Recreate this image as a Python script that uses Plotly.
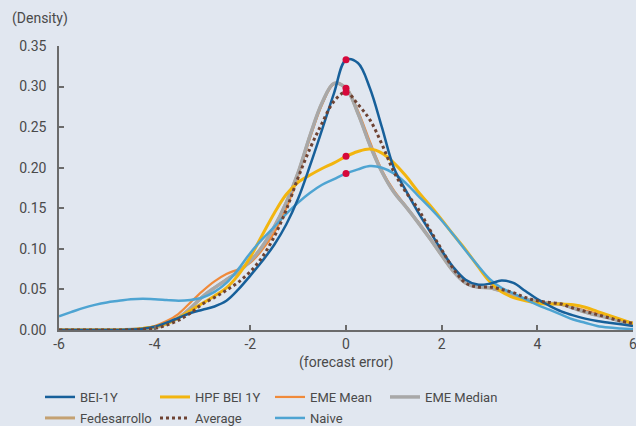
import plotly.graph_objects as go

x_vals = [-6, -5.75, -5.5, -5.25, -5, -4.75, -4.5, -4.25, -4, -3.75, -3.5, -3.25,
          -3, -2.75, -2.5, -2.25, -2, -1.75, -1.5, -1.25, -1, -0.75, -0.5, -0.25,
          0, 0.25, 0.5, 0.75, 1, 1.25, 1.5, 1.75, 2, 2.25, 2.5, 2.75,
          3, 3.25, 3.5, 3.75, 4, 4.25, 4.5, 4.75, 5, 5.25, 5.5, 5.75, 6]

bei_1y = [0, 0, 0, 0, 0, 0, 0.0005, 0.0015, 0.004, 0.009, 0.015, 0.021,
          0.025, 0.029, 0.036, 0.05, 0.067, 0.085, 0.105, 0.13, 0.162, 0.203, 0.247, 0.292,
          0.333, 0.329, 0.298, 0.25, 0.2, 0.172, 0.146, 0.122, 0.098, 0.077, 0.062, 0.056,
          0.057, 0.061, 0.058, 0.048, 0.038, 0.03, 0.023, 0.018, 0.014, 0.011, 0.009, 0.007, 0.005]
hpf_bei_1y = [0, 0, 0, 0, 0, 0, 0.0005, 0.002, 0.004, 0.008, 0.015, 0.024,
              0.033, 0.042, 0.052, 0.068, 0.09, 0.117, 0.144, 0.167, 0.182, 0.191, 0.199, 0.206,
              0.214, 0.22, 0.223, 0.218, 0.206, 0.19, 0.171, 0.154, 0.136, 0.117, 0.099, 0.079,
              0.06, 0.047, 0.04, 0.036, 0.033, 0.032, 0.032, 0.031, 0.028, 0.023, 0.018, 0.013, 0.008]
eme_mean = [0, 0, 0, 0, 0, 0, 0.0005, 0.002, 0.005, 0.011, 0.02, 0.034,
            0.048, 0.06, 0.069, 0.075, 0.083, 0.099, 0.12, 0.15, 0.19, 0.237, 0.278, 0.303,
            0.298, 0.27, 0.232, 0.197, 0.172, 0.153, 0.134, 0.114, 0.093, 0.073, 0.058, 0.053,
            0.052, 0.048, 0.043, 0.038, 0.035, 0.033, 0.031, 0.028, 0.024, 0.02, 0.016, 0.012, 0.009]
eme_median = [0, 0, 0, 0, 0, 0, 0.0005, 0.0015, 0.003, 0.008, 0.015, 0.027,
              0.041, 0.052, 0.062, 0.072, 0.085, 0.103, 0.127, 0.157, 0.194, 0.24, 0.28, 0.304,
              0.298, 0.267, 0.228, 0.195, 0.17, 0.152, 0.133, 0.113, 0.092, 0.072, 0.058, 0.053,
              0.052, 0.048, 0.043, 0.038, 0.035, 0.033, 0.032, 0.027, 0.022, 0.018, 0.015, 0.011, 0.008]
fedesarrollo = [0, 0, 0, 0, 0, 0, 0.0005, 0.0015, 0.003, 0.008, 0.015, 0.027,
                0.041, 0.052, 0.062, 0.072, 0.085, 0.103, 0.127, 0.157, 0.194, 0.24, 0.28, 0.304,
                0.298, 0.267, 0.228, 0.195, 0.17, 0.152, 0.133, 0.113, 0.092, 0.072, 0.058, 0.053,
                0.052, 0.048, 0.043, 0.038, 0.035, 0.033, 0.032, 0.027, 0.022, 0.018, 0.015, 0.011, 0.008]
average = [0, 0, 0, 0, 0, 0, 0.0003, 0.001, 0.002, 0.006, 0.012, 0.021,
           0.032, 0.04, 0.049, 0.059, 0.072, 0.09, 0.115, 0.148, 0.188, 0.224, 0.255, 0.282,
           0.293, 0.278, 0.259, 0.229, 0.195, 0.17, 0.15, 0.124, 0.099, 0.075, 0.058, 0.053,
           0.053, 0.05, 0.046, 0.04, 0.036, 0.034, 0.032, 0.027, 0.023, 0.019, 0.015, 0.011, 0.008]
naive = [0.017, 0.022, 0.027, 0.031, 0.034, 0.036, 0.038, 0.0385, 0.038, 0.037, 0.036, 0.037,
         0.04, 0.047, 0.058, 0.075, 0.095, 0.112, 0.127, 0.143, 0.157, 0.169, 0.179, 0.186,
         0.193, 0.198, 0.202, 0.2, 0.193, 0.181, 0.166, 0.151, 0.135, 0.117, 0.098, 0.08,
         0.063, 0.052, 0.045, 0.038, 0.031, 0.025, 0.019, 0.013, 0.009, 0.005, 0.003, 0.002, 0.001]

series_names = ["BEI-1Y", "HPF BEI 1Y", "EME Mean", "EME Median", "Fedesarrollo", "Average", "Naive"]
series_values = [bei_1y, hpf_bei_1y, eme_mean, eme_median, fedesarrollo, average, naive]
colors = ["#17609a", "#f2b50f", "#f08a3a", "#a8a8a8", "#c4a172", "#6e4333", "#4ea4d2"]
widths = [2.5, 3, 2.2, 3.5, 3, 3, 2.5]
dashes = ["solid", "solid", "solid", "solid", "solid", "dot", "solid"]
legend_rows = ["legend", "legend", "legend", "legend", "legend2", "legend2", "legend2"]
draw_order = [4, 2, 3, 1, 6, 0, 5]

x_ticks = [-6, -4, -2, 0, 2, 4, 6]
y_ticks = [0, 0.05, 0.10, 0.15, 0.20, 0.25, 0.30, 0.35]

W, H = 636, 426
bg = "#e1e7f0"
font_family = "Roboto, Noto Sans, sans-serif"

fig = go.Figure()
for i in draw_order:
    fig.add_trace(go.Scatter(
        x=x_vals, y=series_values[i], mode="lines", name=series_names[i],
        line=dict(color=colors[i], width=widths[i], dash=dashes[i], shape="spline", smoothing=1.0),
        legendrank=i + 1, legend=legend_rows[i],
    ))

zero_idx = x_vals.index(0)
dot_y = [series_values[i][zero_idx] for i in [0, 1, 3, 5, 6]]
fig.add_trace(go.Scatter(
    x=[0] * len(dot_y), y=dot_y, mode="markers", showlegend=False,
    marker=dict(color="#d6083b", size=7),
))

legend_common = dict(
    orientation="h", xanchor="left", yanchor="middle",
    entrywidth=70, entrywidthmode="pixels",
    font=dict(size=13, color="#4a4a4a"), bgcolor="rgba(0,0,0,0)",
    tracegroupgap=0, itemwidth=30,
)

fig.update_layout(
    width=W, height=H,
    paper_bgcolor=bg, plot_bgcolor=bg,
    margin=dict(l=0, r=0, t=0, b=0, autoexpand=False),
    font=dict(family=font_family, size=13, color="#4a4a4a"),
    showlegend=True,
    legend=dict(x=40 / W, y=1 - 397 / H, **legend_common),
    legend2=dict(x=40 / W, y=1 - 418 / H, **legend_common),
    annotations=[
        dict(text="(Density)", xref="paper", yref="paper", x=10 / W, y=1 - 19 / H,
             xanchor="left", yanchor="middle", showarrow=False, font=dict(size=14)),
        dict(text="(forecast error)", xref="paper", yref="paper", x=346 / W, y=1 - 362 / H,
             xanchor="center", yanchor="middle", showarrow=False, font=dict(size=14)),
    ],
)
fig.update_xaxes(
    domain=[59 / W, 633 / W], automargin=False,
    range=[-6, 6], tickvals=x_ticks, ticktext=[str(v) for v in x_ticks],
    showgrid=False, zeroline=False, showline=True, linecolor="#6b6b6b", linewidth=1.5,
    ticks="inside", ticklen=5, tickcolor="#6b6b6b", tickwidth=1.5,
    tickfont=dict(size=14), ticklabeloverflow="allow",
)
fig.update_yaxes(
    domain=[1 - 330 / H, 1 - 46 / H], automargin=False,
    range=[0, 0.35], tickvals=y_ticks, ticktext=[f"{v:.2f}" for v in y_ticks],
    showgrid=False, zeroline=False, showline=True, linecolor="#6b6b6b", linewidth=1.5,
    ticks="inside", ticklen=5, tickcolor="#6b6b6b", tickwidth=1.5,
    ticklabelstandoff=8, tickfont=dict(size=14), ticklabeloverflow="allow",
)

fig.write_html(
    "out.html",
    config={"displayModeBar": False},
    post_script="document.body.style.margin='0';document.body.style.overflow='hidden';",
)
